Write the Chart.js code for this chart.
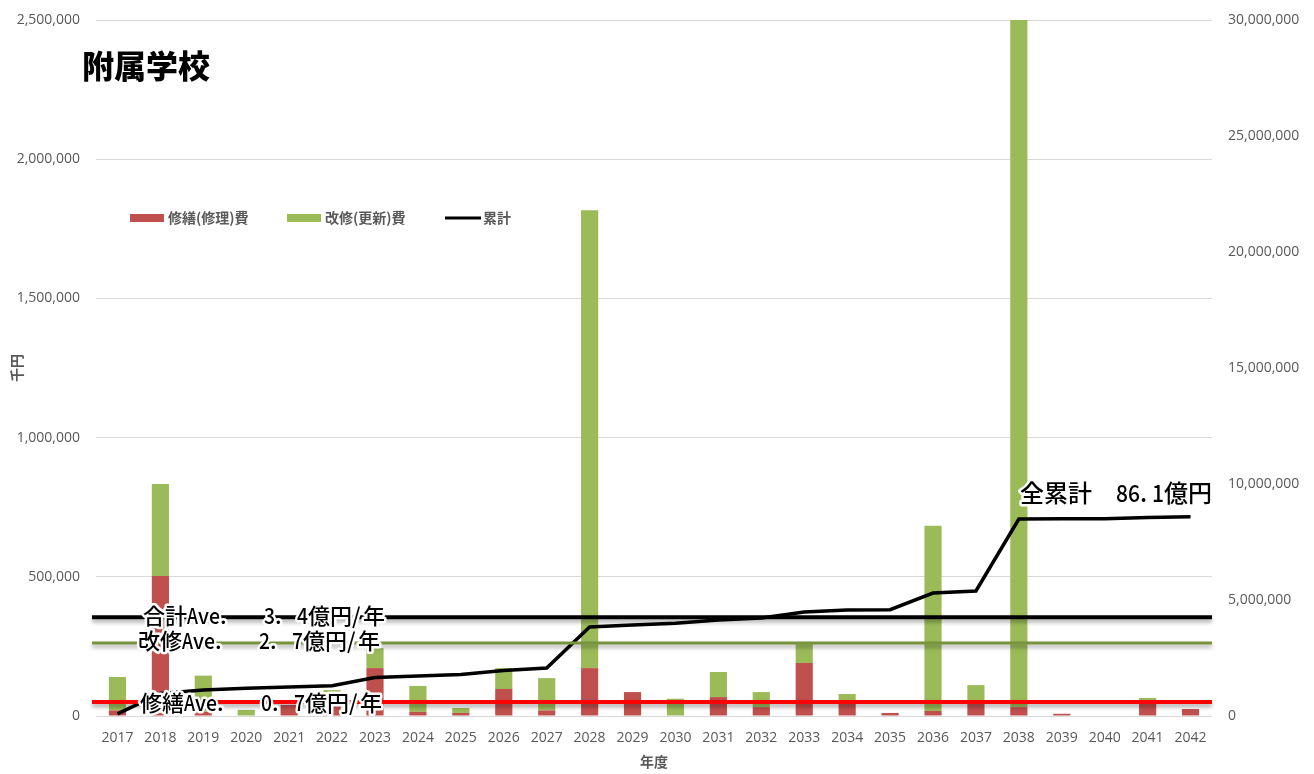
<!DOCTYPE html>
<html>
<head>
<meta charset="utf-8">
<script src="https://cdn.jsdelivr.net/npm/chart.js@4.4.1/dist/chart.umd.min.js"></script>
<style>
  html, body { margin: 0; padding: 0; background: #fff; }
</style>
</head>
<body>
<canvas id="chart" width="1314" height="774"></canvas>
<script>
const years = ['2017', '2018', '2019', '2020', '2021', '2022', '2023', '2024', '2025', '2026',
               '2027', '2028', '2029', '2030', '2031', '2032', '2033', '2034', '2035', '2036',
               '2037', '2038', '2039', '2040', '2041', '2042'];

// 千円
const repairCost  = [20000, 503000, 15000, 0, 40000, 55000, 172000, 15000, 11000, 97000,
                     20000, 172000, 86000, 0, 68000, 32000, 190000, 45000, 11000, 18000,
                     50000, 32000, 8000, 0, 57000, 25000];
const renewalCost = [120000, 330000, 130000, 22000, 0, 38000, 72000, 93000, 18000, 75000,
                     116000, 1645000, 0, 62000, 90000, 54000, 76000, 34000, 0, 665000,
                     61000, 3070000, 0, 0, 8000, 0];
const cumulative  = [90000, 970000, 1120000, 1200000, 1250000, 1300000, 1660000, 1720000, 1790000, 1960000,
                     2070000, 3840000, 3920000, 4000000, 4140000, 4220000, 4480000, 4570000, 4580000, 5300000,
                     5390000, 8490000, 8500000, 8500000, 8560000, 8590000];

const aveValues = [355000, 262000, 50000];
const aveLabels = ['合計Ave.   3. 4億円/年', '改修Ave.   2. 7億円/年', '修繕Ave.   0. 7億円/年'];
const aveColors = ['#000000', '#77933c', '#ff0000'];

const chartTitle = '附属学校';
const totalLabel = '全累計  86.1億円';

const CJK = "'Noto Sans CJK JP', 'Noto Sans', sans-serif";
const LATIN = "'Open Sans', 'Noto Sans', sans-serif";

// draws text like a fixed-pitch gothic font: full-width cells for kana/kanji, half cells for ASCII
const drawCells = (ctx, text, x, y, size) => {
    const cells = [];
    let cx = x;
    for (const ch of text) {
        const w = ch.charCodeAt(0) > 0xff ? size : size / 2;
        cells.push([ch, cx, w]);
        cx += w;
    }
    ctx.save();
    ctx.font = `500 ${size}px ${CJK}`;
    ctx.textBaseline = 'middle';
    ctx.textAlign = 'left';
    ctx.lineJoin = 'round';
    ctx.strokeStyle = '#ffffff';
    ctx.lineWidth = 5;
    cells.forEach(([ch, px, w]) => { if (ch !== ' ') ctx.strokeText(ch, px, y, w); });
    ctx.fillStyle = '#000000';
    cells.forEach(([ch, px, w]) => { if (ch !== ' ') ctx.fillText(ch, px, y, w); });
    ctx.restore();
};

const whiteBackground = {
    id: 'whiteBackground',
    beforeDraw: (chart) => {
        const ctx = chart.ctx;
        ctx.save();
        ctx.fillStyle = '#ffffff';
        ctx.fillRect(0, 0, chart.width, chart.height);
        ctx.restore();
    }
};

const averageLines = {
    id: 'averageLines',
    afterDatasetsDraw: (chart) => {
        const ctx = chart.ctx;
        const area = chart.chartArea;
        const y = chart.scales.y;
        ctx.save();
        aveValues.forEach((v, i) => {
            const py = y.getPixelForValue(v);
            ctx.shadowColor = 'rgba(0,0,0,0.35)';
            ctx.shadowBlur = 4;
            ctx.shadowOffsetY = 3;
            ctx.strokeStyle = aveColors[i];
            ctx.lineWidth = i === 1 ? 3 : 4;
            ctx.beginPath();
            ctx.moveTo(area.left - 4, py);
            ctx.lineTo(area.right, py);
            ctx.stroke();
        });
        ctx.restore();
    },
    afterDraw: (chart) => {
        const ctx = chart.ctx;
        const y = chart.scales.y;
        const y1 = chart.scales.y1;
        const labelX = [143, 138, 140];
        const labelDy = [-2, -2, 1];
        aveValues.forEach((v, i) => {
            drawCells(ctx, aveLabels[i], labelX[i], y.getPixelForValue(v) + labelDy[i], 22);
        });
        const last = cumulative.length - 1;
        drawCells(ctx, totalLabel, 1020, y1.getPixelForValue(cumulative[last]) - 24, 24);

        ctx.save();
        ctx.font = `900 32px ${CJK}`;
        ctx.fillStyle = '#000000';
        ctx.textBaseline = 'middle';
        ctx.fillText(chartTitle, 82, 66);
        ctx.restore();

        // legend
        const legendX = [130, 287, 445];
        const legendY = 218;
        ctx.save();
        ctx.font = `bold 14px ${CJK}`;
        ctx.textBaseline = 'middle';
        chart.data.datasets.forEach((ds, i) => {
            const lx = legendX[i];
            if (ds.type === 'line') {
                ctx.strokeStyle = ds.borderColor;
                ctx.lineWidth = 3;
                ctx.beginPath();
                ctx.moveTo(lx, legendY);
                ctx.lineTo(lx + 36, legendY);
                ctx.stroke();
            } else {
                ctx.fillStyle = ds.backgroundColor;
                ctx.fillRect(lx, legendY - 4, 34, 8);
            }
            ctx.fillStyle = '#595959';
            ctx.fillText(ds.label, lx + 38, legendY);
        });
        ctx.restore();
    }
};

const config = {
    type: 'bar',
    data: {
        labels: years,
        datasets: [{
            label: '修繕(修理)費',
            data: repairCost,
            backgroundColor: '#c0504d',
            stack: 'cost',
            yAxisID: 'y',
            order: 2
        }, {
            label: '改修(更新)費',
            data: renewalCost,
            backgroundColor: '#9bbb59',
            stack: 'cost',
            yAxisID: 'y',
            order: 2
        }, {
            type: 'line',
            label: '累計',
            data: cumulative,
            borderColor: '#000000',
            backgroundColor: '#000000',
            borderWidth: 3.5,
            pointRadius: 0,
            tension: 0,
            yAxisID: 'y1',
            order: 1
        }]
    },
    options: {
        responsive: false,
        animation: false,
        devicePixelRatio: 1,
        locale: 'en-US',
        layout: { padding: { top: 20, bottom: 0, left: 0, right: 0 } },
        datasets: {
            bar: { categoryPercentage: 1, barPercentage: 0.4 }
        },
        plugins: {
            legend: { display: false },
            tooltip: { enabled: false }
        },
        scales: {
            x: {
                stacked: true,
                grid: { display: false },
                border: { display: false },
                ticks: {
                    color: '#595959',
                    font: { family: LATIN, size: 14 },
                    padding: 6,
                    maxRotation: 0,
                    autoSkip: false
                },
                title: {
                    display: true,
                    text: '年度',
                    color: '#595959',
                    font: { family: CJK, size: 14, weight: 'bold' },
                    padding: { top: 0, bottom: 4 }
                },
                afterFit: (scale) => { scale.height = 58; }
            },
            y: {
                stacked: true,
                position: 'left',
                min: 0,
                max: 2500000,
                grid: { color: '#d9d9d9', drawTicks: false },
                border: { display: false },
                ticks: {
                    stepSize: 500000,
                    color: '#595959',
                    font: { family: LATIN, size: 14 },
                    padding: 16
                },
                title: {
                    display: true,
                    text: '千円',
                    color: '#595959',
                    font: { family: CJK, size: 14, weight: 'bold' },
                    padding: { top: 8, bottom: 0 }
                },
                afterFit: (scale) => {
                    scale.width = 96;
                    scale.paddingTop = 0;
                    scale.paddingBottom = 0;
                }
            },
            y1: {
                position: 'right',
                min: 0,
                max: 30000000,
                grid: { display: false, drawTicks: false },
                border: { display: false },
                ticks: {
                    stepSize: 5000000,
                    color: '#595959',
                    font: { family: LATIN, size: 14 },
                    padding: 16
                },
                afterFit: (scale) => {
                    scale.width = 102;
                    scale.paddingTop = 0;
                    scale.paddingBottom = 0;
                }
            }
        }
    },
    plugins: [whiteBackground, averageLines]
};

const ctx = document.getElementById('chart').getContext('2d');
new Chart(ctx, config);
</script>
</body>
</html>
